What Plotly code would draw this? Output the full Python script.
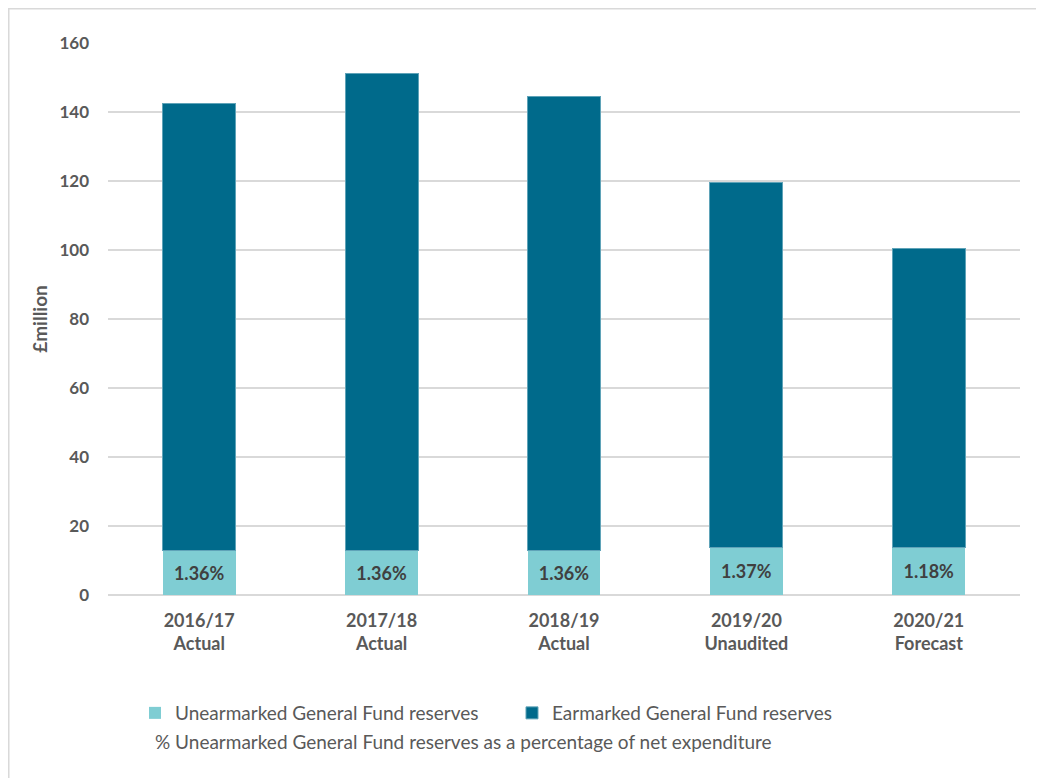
import plotly.graph_objects as go

categories = ["2016/17<br>Actual", "2017/18<br>Actual", "2018/19<br>Actual",
              "2019/20<br>Unaudited", "2020/21<br>Forecast"]
unearmarked = [13.0, 13.0, 13.0, 13.9, 13.9]
earmarked = [129.6, 138.3, 131.6, 105.8, 86.4]
pct_labels = ["1.36%", "1.36%", "1.36%", "1.37%", "1.18%"]
y_ticks = [0, 20, 40, 60, 80, 100, 120, 140, 160]

FONT = "Lato"
GREY = "#595959"

fig = go.Figure()
fig.add_trace(go.Bar(
    x=categories, y=unearmarked, name="Unearmarked General Fund reserves",
    marker=dict(color="#7fcdd3", line=dict(width=0)),
    text=pct_labels, textposition="inside", insidetextanchor="middle",
    textfont=dict(family=FONT, size=18, color="#404040", weight="bold"),
    textangle=0, hoverinfo="y",
))
fig.add_trace(go.Bar(
    x=categories, y=earmarked, name="Earmarked General Fund reserves",
    marker=dict(color="#006a8b", line=dict(width=1, color="#5fa3b8")),
    hoverinfo="y",
))

fig.update_layout(
    width=1036, height=770,
    barmode="stack", bargap=0.6,
    paper_bgcolor="white", plot_bgcolor="white",
    margin=dict(l=100, r=24, t=35, b=183),
    font=dict(family=FONT, color=GREY),
    showlegend=True,
    legend=dict(orientation="h", x=0.0296, y=-0.2138, xanchor="left", yanchor="middle",
                font=dict(family=FONT, size=19, color=GREY),
                itemwidth=30, traceorder="normal", entrywidth=332),
    uniformtext=dict(mode=False),
)
fig.update_xaxes(
    tickfont=dict(family=FONT, size=18, color=GREY, weight="bold"),
    showgrid=False, showline=False, ticks="", ticklabelstandoff=13,
)
fig.update_yaxes(
    range=[0, 160], tickvals=y_ticks,
    tickfont=dict(family=FONT, size=17, color=GREY, weight="bold"),
    showgrid=True, gridcolor="#d9d9d9", gridwidth=1.5,
    zeroline=True, zerolinecolor="#d9d9d9", zerolinewidth=1.5,
    ticks="", ticklabelstandoff=18,
    title=dict(text="£million", font=dict(family=FONT, size=19, color=GREY, weight="bold"),
               standoff=6),
)
fig.add_annotation(
    text="% Unearmarked General Fund reserves as a percentage of net expenditure",
    xref="paper", yref="paper", x=0.0493, y=-0.2645, xanchor="left", yanchor="middle",
    showarrow=False, font=dict(family=FONT, size=19, color=GREY),
)
fig.add_shape(type="rect", xref="paper", yref="paper",
              x0=-0.1088, x1=1.2, y0=-0.5, y1=1.0620,
              line=dict(color="#d9d9d9", width=1.5), layer="below")

fig.write_html("out.html")
